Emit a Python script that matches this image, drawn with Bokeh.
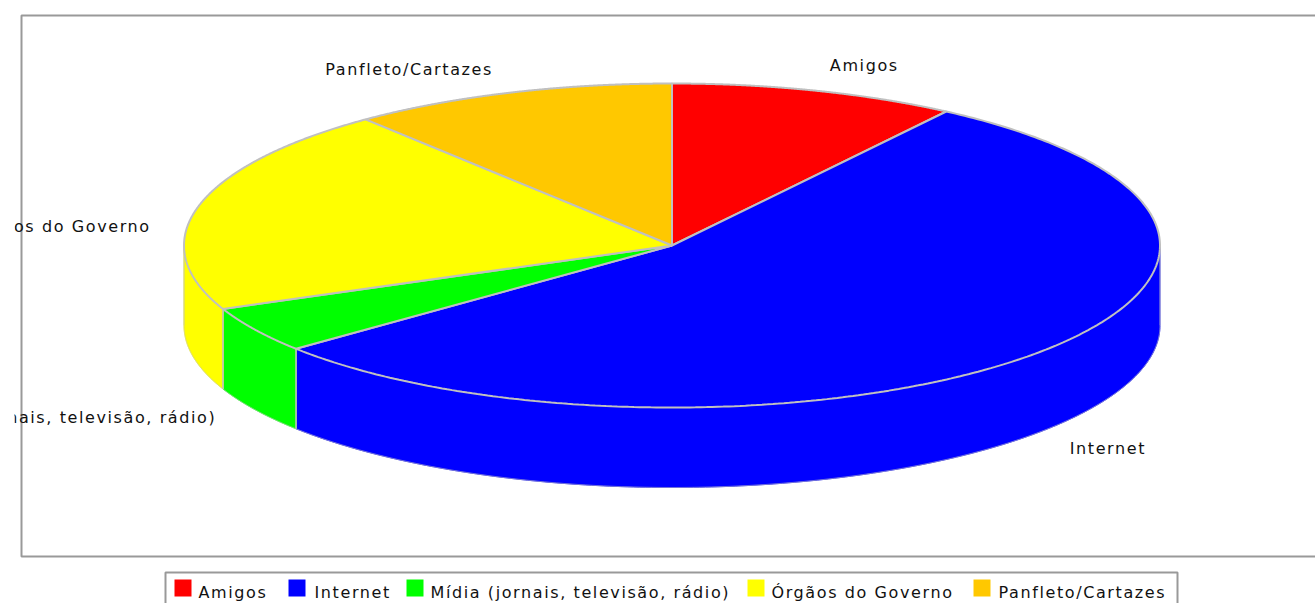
import numpy as np
from bokeh.plotting import figure
from bokeh.models import Range1d
from bokeh.core.properties import value
from bokeh.embed import file_html
from bokeh.resources import INLINE

categories = ["Amigos", "Internet", "Mídia (jornais, televisão, rádio)", "Órgãos do Governo", "Panfleto/Cartazes"]
values = [9.5, 54.5, 4.6, 20.6, 10.8]
colors = ["#ff0000", "#0000ff", "#00ff00", "#ffff00", "#ffc800"]

# layout, in page pixels
CX, CY, RX, RY, DEPTH = 671.5, 245, 488, 162, 80
OUT = "#c0c0c0"
FRAME = "#999999"
FONT = value("DejaVu Sans")
SIZE = "16px"
label_pos = [(859, 65, "center"), (1101, 448, "center"), (163, 417, "right"), (123, 226, "right"), (395, 69, "center")]
legend_swatch_x = [174, 288, 406, 747, 973]
legend_text_x = [198, 314, 430, 771, 998]

p = figure(width=1301, height=595, margin=(8, 0, 0, 14), output_backend="svg", toolbar_location=None,
           x_range=Range1d(14, 1315), y_range=Range1d(603, 8), min_border=0,
           x_axis_location=None, y_axis_location=None, outline_line_color=None,
           styles={"letter-spacing": "1.6px"})
p.grid.visible = False
p.background_fill_color = "white"
p.border_fill_color = "white"

# chart frame (runs off the right edge)
p.quad(left=[21], right=[1340], top=[15], bottom=[556], fill_color="white", line_color=FRAME, line_width=2)


def px(t):
    return CX + RX * np.sin(t)


def py(t, dz=0):
    return CY - RY * np.cos(t) + dz


fr = np.array(values, dtype=float) / sum(values)
edges = np.concatenate([[0], np.cumsum(fr)]) * 2 * np.pi

# side walls (front half only)
for i, col in enumerate(colors):
    a, b = max(edges[i], np.pi / 2), min(edges[i + 1], 3 * np.pi / 2)
    if b <= a:
        continue
    t = np.linspace(a, b, 200)
    xs = np.concatenate([px(t), px(t[::-1])])
    ys = np.concatenate([py(t), py(t[::-1], DEPTH)])
    p.patch(xs, ys, fill_color=col, line_color=col, line_width=1)
    p.line(px(t), py(t, DEPTH), line_color=OUT, line_width=1, line_alpha=0.6)
    for e in (a, b):
        if np.pi / 2 <= e <= 3 * np.pi / 2:
            p.line([px(e), px(e)], [py(e), py(e, DEPTH)], line_color=OUT, line_width=1.5,
                   line_alpha=1 if np.pi / 2 < e < 3 * np.pi / 2 else 0.6)

# top face
for i, col in enumerate(colors):
    t = np.linspace(edges[i], edges[i + 1], 300)
    xs = np.concatenate([[CX], px(t)])
    ys = np.concatenate([[CY], py(t)])
    p.patch(xs, ys, fill_color=col, line_color=OUT, line_width=2)

# slice labels
for name, (x, y, al) in zip(categories, label_pos):
    p.text([x], [y], text=[name], text_align=al, text_baseline="middle", text_color="#111111",
           text_font=FONT, text_font_size=SIZE)

# legend
p.quad(left=[165], right=[1177], top=[572], bottom=[620], fill_color="white", line_color=FRAME, line_width=2)
for name, col, sx, tx in zip(categories, colors, legend_swatch_x, legend_text_x):
    p.quad(left=[sx], right=[sx + 17], top=[579], bottom=[596], fill_color=col, line_color=None)
    p.text([tx], [592], text=[name], text_align="left", text_baseline="middle", text_color="#111111",
           text_font=FONT, text_font_size=SIZE)

open("out.html", "w").write(file_html(p, INLINE))
